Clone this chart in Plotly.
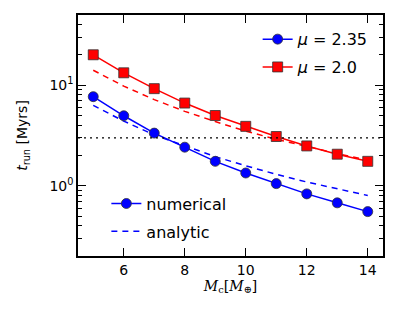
import plotly.graph_objects as go

# ── data ─────────────────────────────────────────────────────────────────────
MC = [5, 6, 7, 8, 9, 10, 11, 12, 13, 14]

num_mu235 = [7.7, 4.97, 3.34, 2.42, 1.75, 1.34, 1.05, 0.83, 0.676, 0.553]
ana_mu235 = [6.3, 4.4, 3.2, 2.5, 1.95, 1.58, 1.3, 1.09, 0.93, 0.80]

num_mu20 = [20.1, 13.3, 9.25, 6.65, 5.0, 3.9, 3.09, 2.49, 2.06, 1.75]
ana_mu20 = [14.1, 9.8, 7.2, 5.5, 4.35, 3.5, 2.9, 2.45, 2.09, 1.8]

T_LIMIT = 3.0
X_RANGE = [4.5, 14.5]
Y_RANGE = [0.2, 50]
X_TICKS = [6, 8, 10, 12, 14]
Y_TICKS = [1, 10]
Y_TICKTEXT = ["10<sup>0</sup>", "10<sup>1</sup>"]
Y_MINOR = [0.2, 0.3, 0.4, 0.5, 0.6, 0.7, 0.8, 0.9,
           2, 3, 4, 5, 6, 7, 8, 9, 20, 30, 40, 50]

BLUE = "#0000ff"
RED = "#ff0000"
FONT = "DejaVu Sans"
EDGE = dict(color="#333333", width=0.8)

fig = go.Figure()

# ── data curves ──────────────────────────────────────────────────────────────
fig.add_trace(go.Scatter(
    x=MC, y=ana_mu20, mode="lines", showlegend=False,
    line=dict(color=RED, width=1.5, dash="6px,5px"),
))
fig.add_trace(go.Scatter(
    x=MC, y=ana_mu235, mode="lines", showlegend=False,
    line=dict(color=BLUE, width=1.5, dash="6px,5px"),
))
fig.add_trace(go.Scatter(
    x=MC, y=num_mu20, mode="lines+markers", showlegend=False,
    line=dict(color=RED, width=1.5),
    marker=dict(color=RED, symbol="square", size=10, line=EDGE),
))
fig.add_trace(go.Scatter(
    x=MC, y=num_mu235, mode="lines+markers", showlegend=False,
    line=dict(color=BLUE, width=1.5),
    marker=dict(color=BLUE, symbol="circle", size=10, line=EDGE),
))

# dotted reference line
fig.add_trace(go.Scatter(
    x=X_RANGE, y=[T_LIMIT, T_LIMIT], mode="lines", showlegend=False,
    line=dict(color="black", width=1.3, dash="2px,4px"),
))

# ── legend proxies ───────────────────────────────────────────────────────────
fig.add_trace(go.Scatter(
    x=[None], y=[None], mode="lines+markers", name="<i>μ</i> = 2.35",
    legend="legend", legendgroup="a",
    line=dict(color=BLUE, width=1.5),
    marker=dict(color=BLUE, symbol="circle", size=10, line=EDGE),
))
fig.add_trace(go.Scatter(
    x=[None], y=[None], mode="lines+markers", name="<i>μ</i> = 2.0",
    legend="legend", legendgroup="b",
    line=dict(color=RED, width=1.5),
    marker=dict(color=RED, symbol="square", size=10, line=EDGE),
))
fig.add_trace(go.Scatter(
    x=[None], y=[None], mode="lines+markers", name="numerical",
    legend="legend2", legendgroup="c",
    line=dict(color=BLUE, width=1.5),
    marker=dict(color=BLUE, symbol="circle", size=10, line=EDGE),
))
fig.add_trace(go.Scatter(
    x=[None], y=[None], mode="lines", name="analytic",
    legend="legend2", legendgroup="d",
    line=dict(color=BLUE, width=1.5, dash="6px,5px"),
))

axis_common = dict(
    showline=True, linecolor="black", linewidth=1.5, mirror="allticks",
    ticks="inside", ticklen=8, tickwidth=1, tickcolor="black",
    showgrid=False, zeroline=False, automargin=False,
    tickfont=dict(family=FONT, size=14, color="black"),
)

fig.update_xaxes(
    range=X_RANGE, tickvals=X_TICKS,
    title=dict(text="<i>M</i><sub>c</sub>[<i>M</i><sub>⊕</sub>]",
               font=dict(family="DejaVu Serif", size=14, color="black"),
               standoff=3),
    **axis_common,
)
fig.update_yaxes(
    type="log", range=[-0.69897, 1.69897],
    tickvals=Y_TICKS, ticktext=Y_TICKTEXT,
    minor=dict(tickvals=Y_MINOR, ticks="inside", ticklen=4,
               tickcolor="black", showgrid=False),
    title=dict(text="<i>t</i><sub>run</sub> [Myrs]",
               font=dict(family=FONT, size=14, color="black"),
               standoff=18),
    **axis_common,
)

# page body adds an 8px margin, so the figure is sized to fit inside it
fig.update_layout(
    width=391, height=312,
    margin=dict(l=70, r=16, t=7, b=64),
    plot_bgcolor="white", paper_bgcolor="white",
    font=dict(family=FONT, size=16, color="black"),
    legend=dict(x=0.589, y=0.97, xanchor="left", yanchor="top",
                tracegroupgap=4,
                bgcolor="rgba(0,0,0,0)", font=dict(size=16)),
    legend2=dict(x=0.093, y=0.288, xanchor="left", yanchor="top",
                 tracegroupgap=4,
                 bgcolor="rgba(0,0,0,0)", font=dict(size=16)),
)

fig.write_html("out.html")
